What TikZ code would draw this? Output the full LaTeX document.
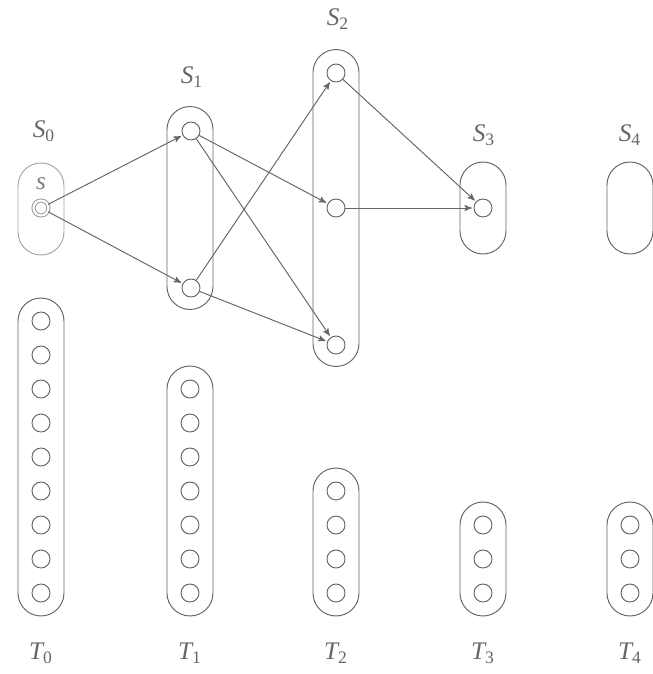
\documentclass[tikz,border=0pt]{standalone}
\usepackage{fontspec}
\setmainfont{Liberation Serif}
\usetikzlibrary{arrows}

\begin{document}
\begin{tikzpicture}[x=0.02cm,y=-0.02cm,->,>=stealth',shorten >=1pt,
  line width=0.55pt,color=black!60,
  main node/.style={circle,draw,inner sep=0pt,minimum size=0.36cm},
  group/.style={draw,rounded corners=0.46cm,minimum width=0.92cm,inner sep=0pt},
  lbl/.style={font=\Large\itshape}]

  \useasboundingbox (0,0) rectangle (653,674);

  % the S groups
  \node[group,draw=black!35,minimum height=1.84cm] (G0) at (41,209) {};
  \node[group,minimum height=4.06cm] (G1) at (190,208) {};
  \node[group,minimum height=6.34cm] (G2) at (336,208) {};
  \node[group,minimum height=1.84cm] (G3) at (483,208) {};
  \node[group,minimum height=1.84cm] (G4) at (630,208) {};

  \node[lbl] (S0) at (44,131) {S\textsubscript{\upshape 0}};
  \node[lbl] (S1) at (192,77) {S\textsubscript{\upshape 1}};
  \node[lbl] (S2) at (338,19) {S\textsubscript{\upshape 2}};
  \node[lbl] (S3) at (484,135) {S\textsubscript{\upshape 3}};
  \node[lbl] (S4) at (630,135) {S\textsubscript{\upshape 4}};

  \node[main node,draw=black!40,double,double distance=1.2pt,minimum size=0.3cm,
    label={[lbl,text=black!50,label distance=0.08cm]above:s}] (s) at (41,208) {};
  \node[main node] (a1) at (191,131) {};
  \node[main node] (a2) at (191,288) {};
  \node[main node] (b1) at (336,73) {};
  \node[main node] (b2) at (336,208) {};
  \node[main node] (b3) at (336,345) {};
  \node[main node] (c) at (483,208) {};

  % the T groups
  \foreach \x/\n [count=\i from 0] in {41/9,190/7,336/4,483/3,630/3} {
    \node[group,minimum height={(\n-1)*0.68cm+0.92cm}] (H\i) at (\x,{593-(\n-1)*17}) {};
    \foreach \j in {1,...,\n}
      \node[main node] (t\i-\j) at (\x,{593-(\n-\j)*34}) {};
    \node[lbl] (T\i) at (\x,653) {T\textsubscript{\upshape\i}};
  }

  \path
    (s) edge (a1)
        edge (a2)
    (a1) edge (b2)
         edge (b3)
    (a2) edge (b1)
         edge (b3)
    (b1) edge (c)
    (b2) edge (c);
\end{tikzpicture}
\end{document}
